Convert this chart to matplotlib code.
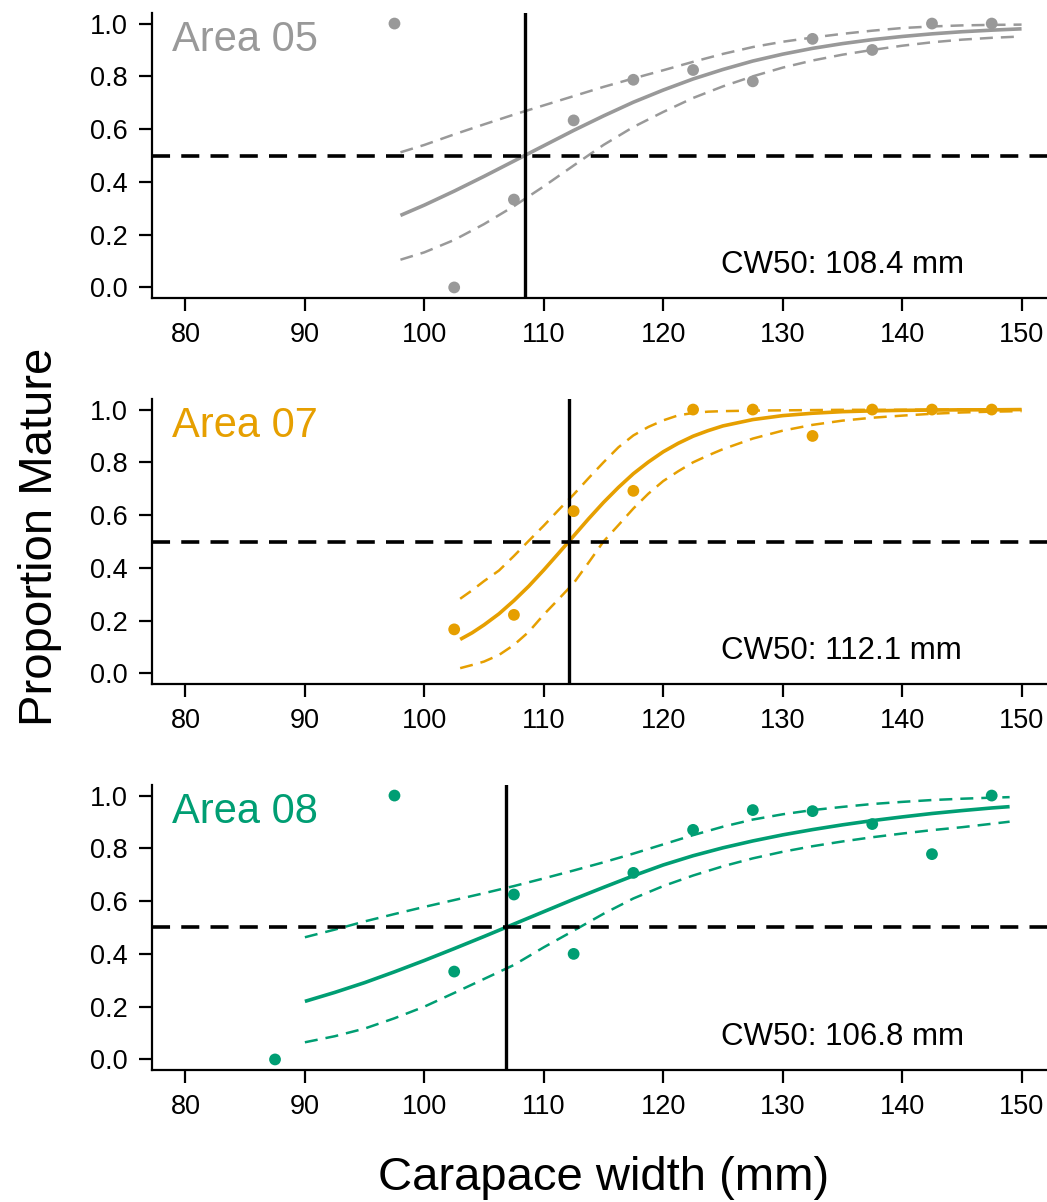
import matplotlib
matplotlib.use("Agg")
import matplotlib.pyplot as plt

plt.rcParams['font.family'] = ['Liberation Sans', 'DejaVu Sans']

# ---- data -------------------------------------------------------------
areas = ["Area 05", "Area 07", "Area 08"]
colors = ["#999999", "#E69F00", "#009E73"]
cw50 = [108.4, 112.1, 106.8]

# observed proportion mature per 5-mm carapace-width bin
bins_05 = [97.5, 102.5, 107.5, 112.5, 117.5, 122.5, 127.5, 132.5, 137.5, 142.5, 147.5]
prop_05 = [1.0, 0.0, 0.333, 0.633, 0.787, 0.824, 0.781, 0.942, 0.900, 1.0, 1.0]

bins_07 = [102.5, 107.5, 112.5, 117.5, 122.5, 127.5, 132.5, 137.5, 142.5, 147.5]
prop_07 = [0.167, 0.222, 0.615, 0.692, 1.0, 1.0, 0.900, 1.0, 1.0, 1.0]

bins_08 = [87.5, 97.5, 102.5, 107.5, 112.5, 117.5, 122.5, 127.5, 132.5, 137.5, 142.5, 147.5]
prop_08 = [0.0, 1.0, 0.333, 0.625, 0.400, 0.707, 0.870, 0.945, 0.941, 0.892, 0.778, 1.0]

# fitted maturity ogives with lower / upper confidence limits
cw_05 = [98, 100, 102.5, 105, 107.5, 110, 112.5, 115, 117.5, 120, 122.5,
         125, 127.5, 130, 132.5, 135, 137.5, 140, 142.5, 145, 147.5, 150]
fit_05 = [0.273, 0.312, 0.365, 0.421, 0.479, 0.537, 0.595, 0.650, 0.702, 0.748, 0.790,
          0.826, 0.858, 0.884, 0.906, 0.924, 0.939, 0.951, 0.961, 0.969, 0.975, 0.980]
upr_05 = [0.512, 0.540, 0.580, 0.618, 0.655, 0.690, 0.725, 0.760, 0.792, 0.823, 0.855,
          0.885, 0.911, 0.931, 0.947, 0.961, 0.973, 0.983, 0.989, 0.993, 0.995, 0.996]
lwr_05 = [0.105, 0.133, 0.180, 0.240, 0.308, 0.383, 0.462, 0.540, 0.608, 0.665, 0.718,
          0.762, 0.800, 0.833, 0.860, 0.882, 0.900, 0.916, 0.929, 0.939, 0.946, 0.951]

cw_07 = [103, 104, 105, 106.25, 107.5, 108.75, 110, 111.25, 112.5, 113.75, 115, 116.25,
         117.5, 118.75, 120, 121.25, 122.5, 123.75, 125,
         127.5, 130, 132.5, 135, 137.5, 140, 142.5, 145, 147.5, 150]
fit_07 = [0.129, 0.154, 0.184, 0.226, 0.276, 0.331, 0.392, 0.456, 0.521, 0.586, 0.648, 0.705,
          0.757, 0.801, 0.840, 0.872, 0.899, 0.920, 0.938,
          0.962, 0.977, 0.986, 0.992, 0.995, 0.997, 0.998, 0.999, 0.999, 1.000]
upr_07 = [0.283, 0.315, 0.350, 0.390, 0.445, 0.503, 0.560, 0.620, 0.678, 0.740, 0.800, 0.857,
          0.902, 0.934, 0.959, 0.978, 0.987, 0.992, 0.994,
          0.996, 0.997, 0.998, 0.999, 0.999, 0.999, 1.000, 1.000, 1.000, 1.000]
lwr_07 = [0.020, 0.032, 0.045, 0.070, 0.108, 0.158, 0.223, 0.282, 0.342, 0.420, 0.500, 0.562,
          0.625, 0.681, 0.729, 0.766, 0.800, 0.826, 0.850,
          0.890, 0.920, 0.942, 0.958, 0.969, 0.977, 0.984, 0.989, 0.992, 0.994]

cw_08 = [90, 92.5, 95, 97.5, 100, 102.5, 105, 107.5, 110, 112.5, 115, 117.5, 120,
         122.5, 125, 127.5, 130, 132.5, 135, 137.5, 140, 142.5, 145, 147.5, 149]
fit_08 = [0.220, 0.254, 0.291, 0.332, 0.375, 0.420, 0.466, 0.513, 0.560, 0.607, 0.652, 0.696, 0.737,
          0.772, 0.802, 0.828, 0.851, 0.871, 0.889, 0.905, 0.919, 0.932, 0.943, 0.953, 0.958]
upr_08 = [0.463, 0.492, 0.523, 0.551, 0.578, 0.604, 0.630, 0.657, 0.686, 0.716, 0.747, 0.780, 0.815,
          0.850, 0.882, 0.909, 0.929, 0.945, 0.957, 0.968, 0.976, 0.983, 0.988, 0.992, 0.994]
lwr_08 = [0.065, 0.088, 0.117, 0.156, 0.200, 0.252, 0.305, 0.358, 0.425, 0.488, 0.552, 0.610, 0.657,
          0.697, 0.732, 0.762, 0.787, 0.808, 0.826, 0.842, 0.856, 0.869, 0.880, 0.893, 0.901]

x_ticks = [80, 90, 100, 110, 120, 130, 140, 150]
y_ticks = [0.0, 0.2, 0.4, 0.6, 0.8, 1.0]

panels = [
    (bins_05, prop_05, cw_05, fit_05, upr_05, lwr_05),
    (bins_07, prop_07, cw_07, fit_07, upr_07, lwr_07),
    (bins_08, prop_08, cw_08, fit_08, upr_08, lwr_08),
]

# ---- figure -------------------------------------------------------------
W, H = 1047, 1202
fig = plt.figure(figsize=(W / 100, H / 100), dpi=100)

left_px, right_px = 152, 1055
tops_px = [13, 399, 785]
height_px = 285

band_lw = 1.8
band_dash = (0, (5.2, 3.2))
ref_dash = (0, (5.0, 3.1))

for i, (bx, by, cx, fit, upr, lwr) in enumerate(panels):
    top = tops_px[i]
    ax = fig.add_axes([left_px / W, 1 - (top + height_px) / H,
                       (right_px - left_px) / W, height_px / H])
    col = colors[i]

    ax.plot(cx, upr, color=col, lw=band_lw, linestyle=band_dash, zorder=2)
    ax.plot(cx, lwr, color=col, lw=band_lw, linestyle=band_dash, zorder=2)
    ax.plot(cx, fit, color=col, lw=2.6, solid_capstyle='butt', zorder=3)

    ax.axhline(0.5, color='black', lw=2.6, linestyle=ref_dash, zorder=4)
    ax.axvline(cw50[i], color='black', lw=2.4, zorder=4)

    ax.scatter(bx, by, s=72, color=col, edgecolors='none', zorder=5)

    ax.set_xlim(77.2, 152.8)
    ax.set_ylim(-0.04, 1.04)
    ax.set_xticks(x_ticks)
    ax.set_xticklabels([str(t) for t in x_ticks])
    ax.set_yticks(y_ticks)
    ax.set_yticklabels([f"{t:.1f}" for t in y_ticks])

    for s in ('top', 'right'):
        ax.spines[s].set_visible(False)
    for s in ('left', 'bottom'):
        ax.spines[s].set_linewidth(1.6)
    ax.tick_params(axis='both', direction='out', length=9.4, width=1.6,
                   labelsize=19.5, pad=8, colors='black')
    ax.patch.set_alpha(0)

    ax.text(0.022, 0.866, areas[i], transform=ax.transAxes, fontsize=30,
            color=col, ha='left', va='baseline')
    ax.text(0.630, 0.088, f"CW50: {cw50[i]:.1f} mm", transform=ax.transAxes,
            fontsize=22.5, color='black', ha='left', va='baseline')

fig.text(52 / W, 1 - 536.5 / H, "Proportion Mature", rotation=90,
         rotation_mode='anchor', ha='center', va='baseline', fontsize=34)
fig.text(603.5 / W, 1 - 1190 / H, "Carapace width (mm)",
         ha='center', va='baseline', fontsize=34)

fig.savefig("out.png", dpi=100)
